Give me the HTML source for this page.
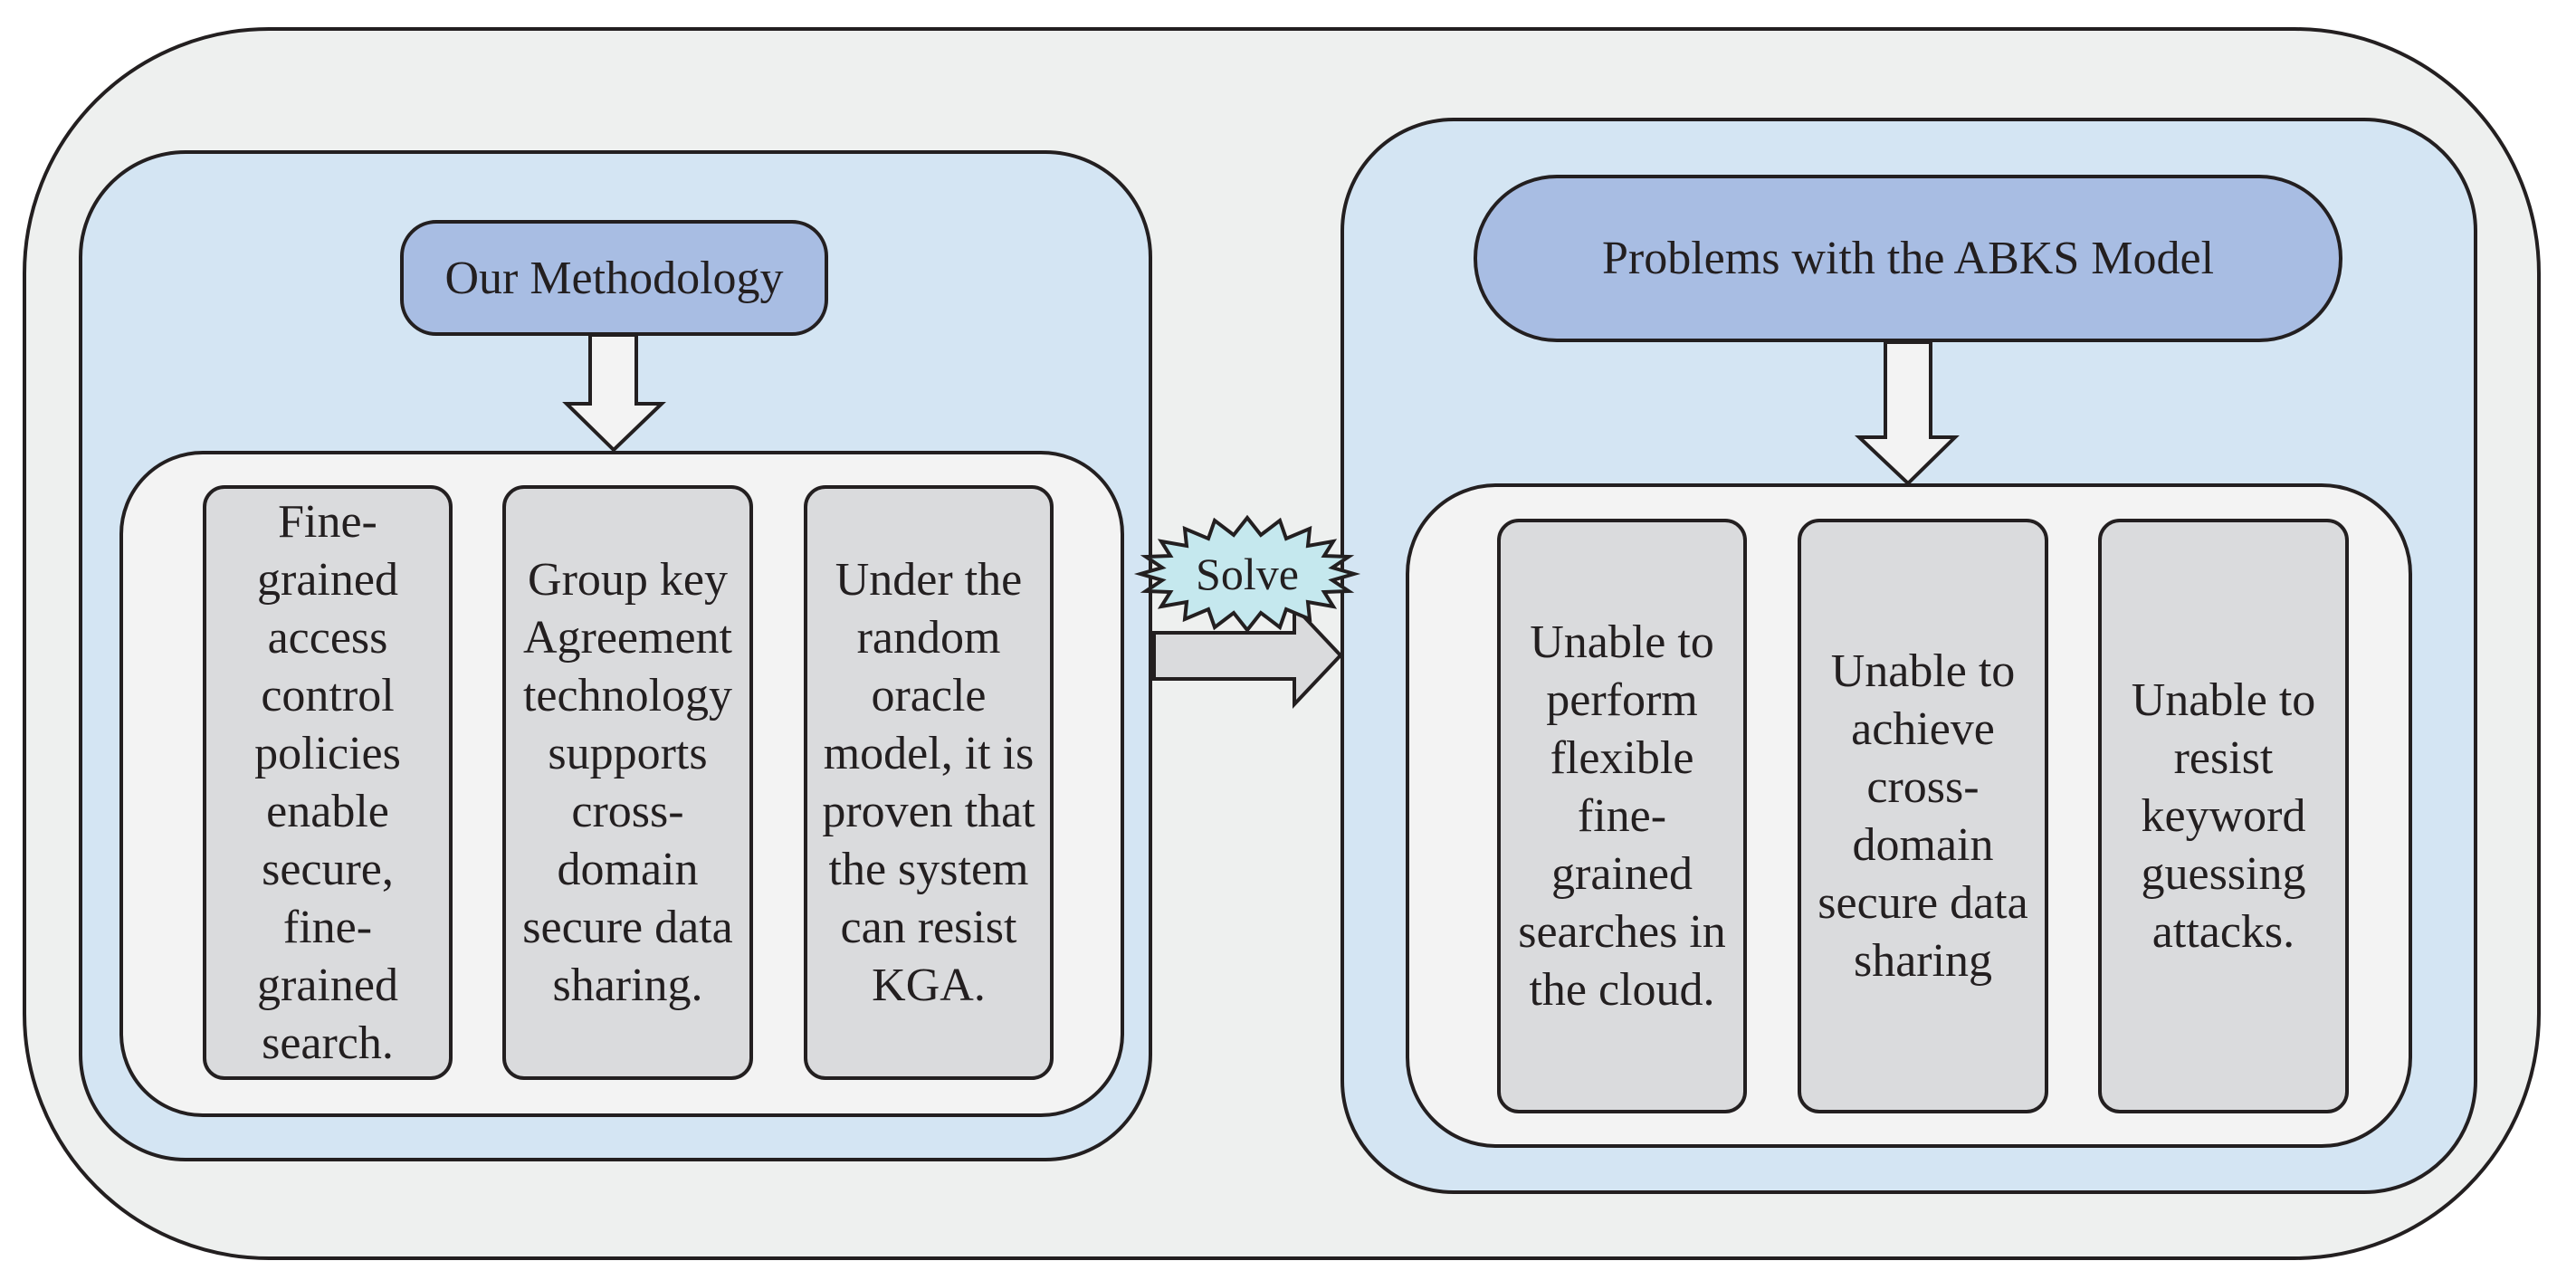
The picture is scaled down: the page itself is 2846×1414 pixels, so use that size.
<!DOCTYPE html>
<html><head><meta charset="utf-8"><style>
body{margin:0;width:2846px;height:1414px;background:#fff;overflow:hidden;position:relative;font-family:"Liberation Serif",serif;color:#231f20}
.b{position:absolute;box-sizing:border-box;border:4px solid #231f20}
.c{position:absolute;box-sizing:border-box;border:4px solid #231f20;background:#dadbdd;border-radius:24px;display:flex;align-items:center;justify-content:center;text-align:center;font-size:52px;line-height:64px;white-space:nowrap}
.t{position:absolute;display:flex;align-items:center;justify-content:center;font-size:52px;white-space:nowrap}
svg{position:absolute;left:0;top:0}
</style></head><body>
<div class="b" style="left:25px;top:30px;width:2782px;height:1362px;border-radius:272px;background:#eef0ef"></div>
<div class="b" style="left:87px;top:166px;width:1186px;height:1117px;border-radius:118px;background:#d4e5f3"></div>
<div class="b" style="left:1481px;top:130px;width:1256px;height:1189px;border-radius:125px;background:#d4e5f3"></div>
<div class="b t" style="left:442px;top:243px;width:473px;height:128px;border-radius:40px;background:#a8bde3">Our Methodology</div>
<div class="b t" style="left:1628px;top:193px;width:960px;height:185px;border-radius:92px;background:#a8bde3">Problems with the ABKS Model</div>
<div class="b" style="left:132px;top:498px;width:1110px;height:736px;border-radius:92px;background:#f3f3f3"></div>
<div class="b" style="left:1553px;top:534px;width:1112px;height:734px;border-radius:100px;background:#f3f3f3"></div>
<div class="c" style="left:224px;top:536px;width:276px;height:657px">Fine-<br>grained<br>access<br>control<br>policies<br>enable<br>secure,<br>fine-<br>grained<br>search.</div>
<div class="c" style="left:555px;top:536px;width:277px;height:657px">Group key<br>Agreement<br>technology<br>supports<br>cross-<br>domain<br>secure data<br>sharing.</div>
<div class="c" style="left:888px;top:536px;width:276px;height:657px">Under the<br>random<br>oracle<br>model, it is<br>proven that<br>the system<br>can resist<br>KGA.</div>
<div class="c" style="left:1654px;top:573px;width:276px;height:657px">Unable to<br>perform<br>flexible<br>fine-<br>grained<br>searches in<br>the cloud.</div>
<div class="c" style="left:1986px;top:573px;width:277px;height:657px">Unable to<br>achieve<br>cross-<br>domain<br>secure data<br>sharing</div>
<div class="c" style="left:2318px;top:573px;width:277px;height:657px">Unable to<br>resist<br>keyword<br>guessing<br>attacks.</div>
<svg width="2846" height="1414">
<g stroke="#231f20" stroke-width="4" stroke-linejoin="miter">
<polygon fill="#f3f3f3" points="652,370 703,370 703,446 731,446 678,497 626,446 652,446"/>
<polygon fill="#f3f3f3" points="2083,378 2133,378 2133,483 2160,483 2108,534 2054,483 2083,483"/>
<polygon fill="#dadbdd" points="1275,699 1430,699 1430,670 1481,724 1430,778 1430,750 1275,750"/>
<polygon fill="#c5e8ee" points="1496,634 1472,641 1490,653 1463,654 1473,670 1445,665 1447,684 1421,673 1414,693 1393,677 1378,696 1363,677 1342,693 1335,673 1309,684 1311,665 1283,670 1293,654 1266,653 1284,641 1260,634 1284,627 1266,615 1293,614 1283,598 1311,603 1309,584 1335,595 1342,575 1363,591 1378,572 1393,591 1414,575 1421,595 1447,584 1445,603 1473,598 1463,614 1490,615 1472,627"/>
</g>
<text x="1378" y="651" font-family="Liberation Serif, serif" font-size="50" text-anchor="middle" fill="#231f20">Solve</text>
</svg>
</body></html>
